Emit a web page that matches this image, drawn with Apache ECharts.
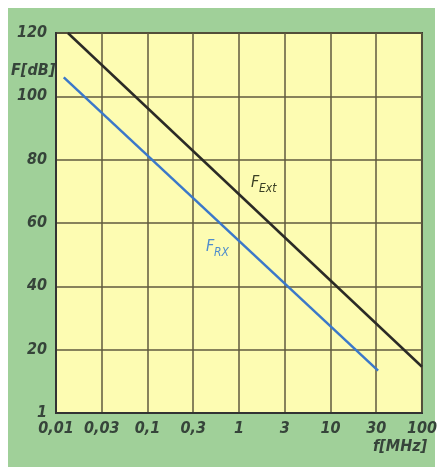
<!DOCTYPE html>
<html>
<head>
<meta charset="utf-8">
<script src="https://cdn.jsdelivr.net/npm/echarts@6/dist/echarts.min.js"></script>
<style>
  html, body { margin: 0; padding: 0; background: #ffffff; }
  #chart { width: 440px; height: 467px; }
</style>
</head>
<body>
<div id="chart"></div>
<script>
// x axis: evenly spaced frequency marks (MHz), y axis: noise figure in dB
const xLabels = ['0,01', '0,03', '0,1', '0,3', '1', '3', '10', '30', '100'];
const yLabels = ['1', '20', '40', '60', '80', '100', '120'];

// positions on the x axis (index of tick mark) and values in dB
const extPos = [0.26, 8];
const extDb = [120, 14.6];
const rxPos = [0.17, 7.04];
const rxDb = [106, 13.4];

const textColor = '#36443a';
const font = "'Liberation Sans Narrow', 'DejaVu Sans Condensed', 'Liberation Sans', sans-serif";

const chart = echarts.init(document.getElementById('chart'));

const option = {
  backgroundColor: '#ffffff',
  animation: false,
  graphic: [
    {
      type: 'rect',
      z: -10,
      shape: { x: 8, y: 8, width: 427, height: 459 },
      style: { fill: '#a0d099' }
    },
    {
      type: 'text',
      left: 11, top: 63,
      style: { text: 'F[dB]', fill: textColor, font: 'italic bold 16px ' + font }
    },
    {
      type: 'text',
      left: 373, top: 439,
      style: { text: 'f[MHz]', fill: textColor, font: 'italic bold 16px ' + font }
    },
    {
      type: 'text',
      left: 251, top: 175,
      style: { text: 'F', fill: '#3a3f24', font: 'italic 16px ' + font }
    },
    {
      type: 'text',
      left: 259, top: 183,
      style: { text: 'Ext', fill: '#3a3f24', font: 'italic 12px ' + font }
    },
    {
      type: 'text',
      left: 206, top: 239,
      style: { text: 'F', fill: '#4f8ccc', font: 'italic 16px ' + font }
    },
    {
      type: 'text',
      left: 214, top: 247,
      style: { text: 'RX', fill: '#4f8ccc', font: 'italic 12px ' + font }
    }
  ],
  grid: {
    left: 56,
    top: 33,
    right: 11,
    bottom: 54,
    show: true,
    backgroundColor: '#fdfcb2',
    borderColor: '#333333',
    borderWidth: 2
  },
  xAxis: {
    type: 'value',
    min: 0,
    max: 8,
    interval: 1,
    axisLine: { show: true, lineStyle: { color: '#333333', width: 2 } },
    axisTick: { show: false },
    splitLine: { show: true, lineStyle: { color: '#5f5a3e', width: 1.5 } },
    axisLabel: {
      margin: 8,
      color: textColor,
      fontStyle: 'italic',
      fontWeight: 'bold',
      fontSize: 16,
      fontFamily: font,
      formatter: (v) => xLabels[Math.round(v)] || ''
    }
  },
  yAxis: {
    type: 'value',
    min: 0,
    max: 120,
    interval: 20,
    axisLine: { show: true, lineStyle: { color: '#333333', width: 2 } },
    axisTick: { show: false },
    splitLine: { show: true, lineStyle: { color: '#5f5a3e', width: 1.5 } },
    axisLabel: {
      margin: 9,
      color: textColor,
      fontStyle: 'italic',
      fontWeight: 'bold',
      fontSize: 16,
      fontFamily: font,
      formatter: (v) => yLabels[Math.round(v / 20)] || ''
    }
  },
  series: [
    {
      name: 'FExt',
      type: 'line',
      showSymbol: false,
      data: extPos.map((x, i) => [x, extDb[i]]),
      lineStyle: { color: '#2b2b26', width: 2.5 }
    },
    {
      name: 'FRX',
      type: 'line',
      showSymbol: false,
      data: rxPos.map((x, i) => [x, rxDb[i]]),
      lineStyle: { color: '#3b78c9', width: 2.5 }
    }
  ]
};

chart.setOption(option);
</script>
</body>
</html>
